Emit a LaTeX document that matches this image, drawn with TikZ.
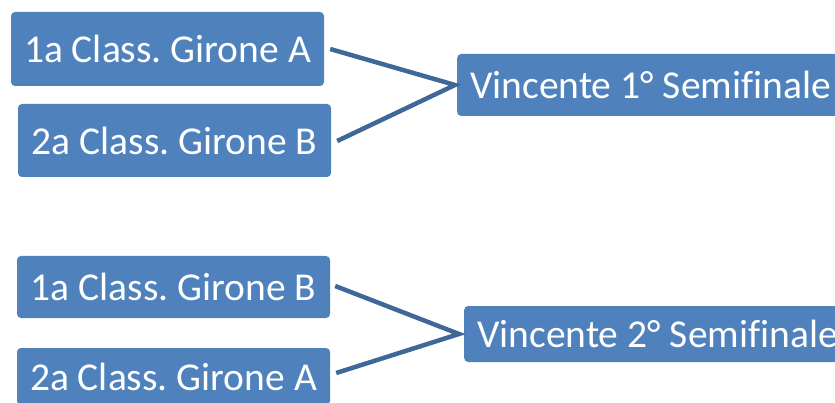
\documentclass[tikz,border=0pt]{standalone}
\usepackage{fontspec}
\setmainfont[Ligatures=NoCommon]{Carlito}
\frenchspacing
\definecolor{boxblue}{HTML}{4F81BD}
\definecolor{linkblue}{HTML}{3F6797}
\begin{document}
\begin{tikzpicture}[x=1pt,y=-1pt,
  team/.style={fill=boxblue, text=white, rounded corners=4pt, inner sep=0pt,
    minimum width=313pt, font=\fontsize{39.5}{40}\selectfont},
  winner/.style={fill=boxblue, text=white, rounded corners=4pt, inner xsep=13pt, inner ysep=0pt,
    anchor=west, font=\fontsize{39.5}{40}\selectfont},
  link/.style={draw=linkblue, line width=4.5pt}]
\useasboundingbox (0,0) rectangle (835,403);
\clip (0,0) rectangle (835,403);
\node[team, minimum height=74pt] (a1) at (167.5,49) {1a Class. Girone A};
\node[team, minimum height=73pt] (b2) at (174.5,140.5) {2a Class. Girone B};
\node[winner, minimum height=62pt] (w1) at (457,85) {Vincente 1° Semifinale};
\node[team, minimum height=62pt] (b1) at (173.5,287) {1a Class. Girone B};
\node[team, minimum height=57pt] (a2) at (173.5,376.5) {2a Class. Girone A};
\node[winner, minimum height=56pt] (w2) at (464,334) {Vincente 2° Semifinale};
\coordinate (j1) at ([xshift=-2pt]w1.west);
\coordinate (j2) at ([xshift=-5pt]w2.west);
\draw[link] ([xshift=6pt]a1.east) -- (j1) -- ([xshift=6pt,yshift=-0.5pt]b2.east);
\draw[link] ([xshift=5pt,yshift=1pt]b1.east) -- (j2) -- ([xshift=6pt,yshift=3.5pt]a2.east);
\end{tikzpicture}
\end{document}
